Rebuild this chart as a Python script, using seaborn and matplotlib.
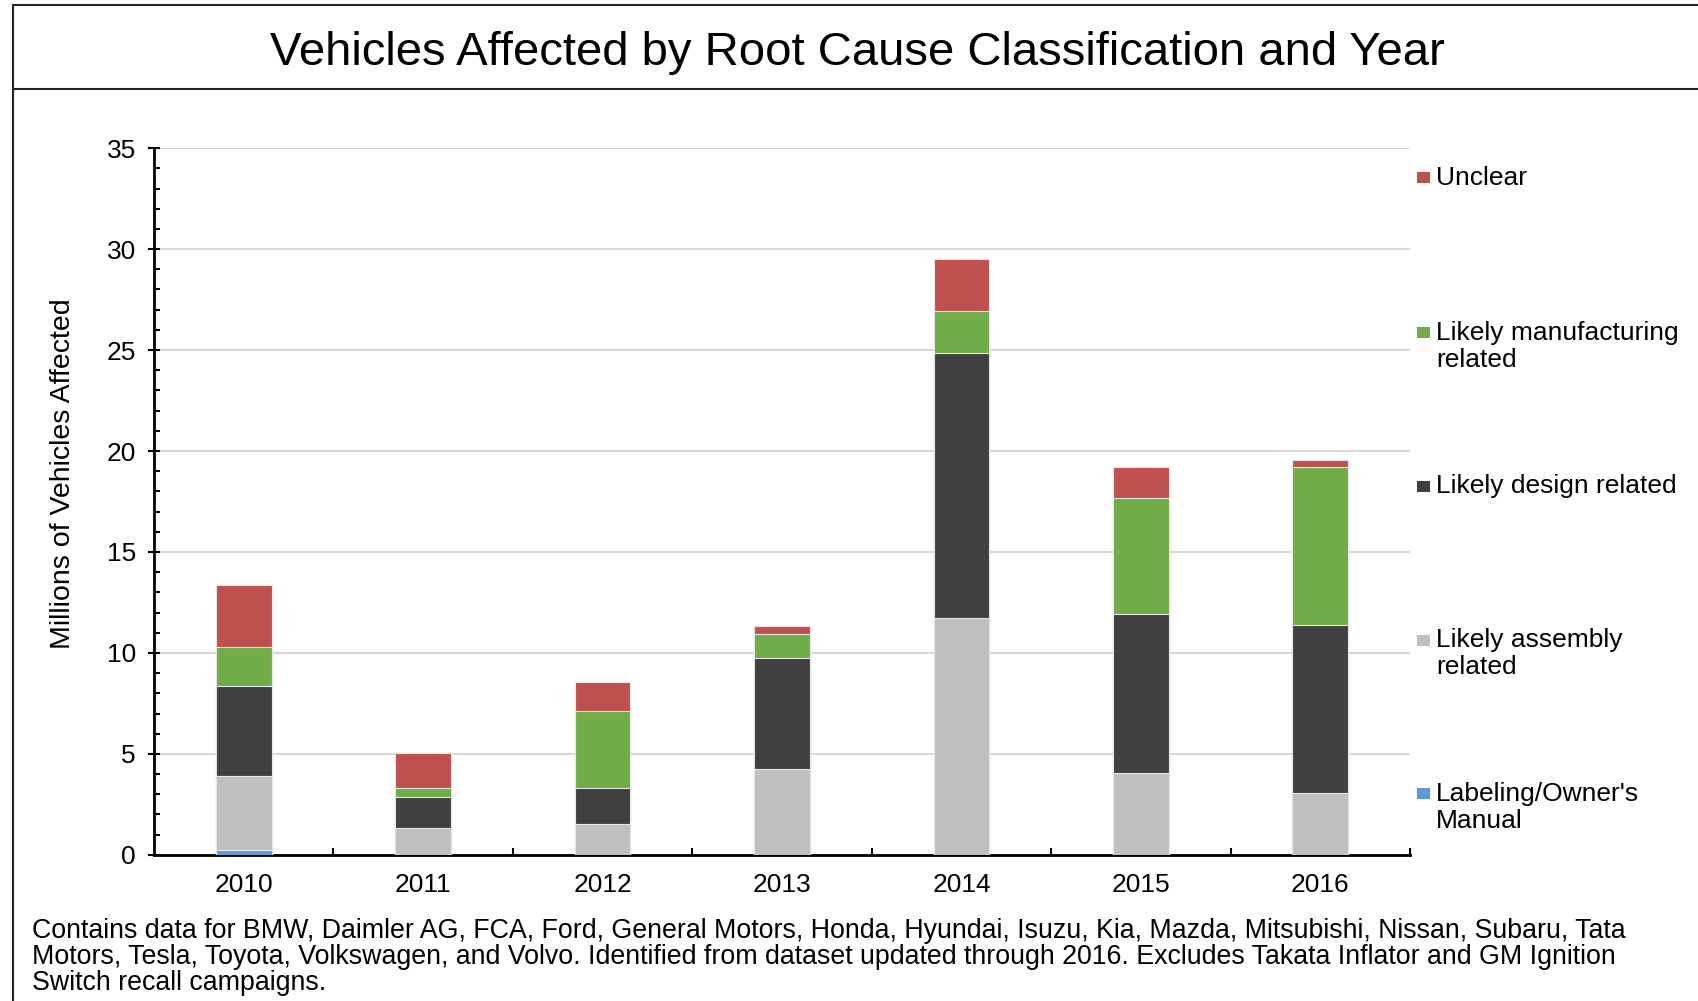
import numpy as np
import pandas as pd
import matplotlib
matplotlib.use("Agg")
import matplotlib.pyplot as plt
from matplotlib.lines import Line2D
from matplotlib.patches import Rectangle
from matplotlib.ticker import MultipleLocator, FixedLocator
import seaborn as sns

# Data (millions of vehicles)
years = ["2010", "2011", "2012", "2013", "2014", "2015", "2016"]
labeling = [0.24, 0.0, 0.0, 0.0, 0.0, 0.0, 0.0]
assembly = [3.65, 1.35, 1.53, 4.24, 11.75, 4.03, 3.06]
design = [4.46, 1.54, 1.77, 5.53, 13.08, 7.88, 8.31]
manufacturing = [1.93, 0.44, 3.84, 1.18, 2.12, 5.76, 7.84]
unclear = [3.09, 1.72, 1.44, 0.38, 2.57, 1.52, 0.37]

series_names = ["Labeling/Owner's\nManual", "Likely assembly\nrelated", "Likely design related",
                "Likely manufacturing\nrelated", "Unclear"]
series_colors = ["#5B9BD5", "#BFBFBF", "#404040", "#70AD47", "#C0504D"]

footnote = ("Contains data for BMW, Daimler AG, FCA, Ford, General Motors, Honda, Hyundai, Isuzu, Kia, Mazda, Mitsubishi, Nissan, Subaru, Tata\n"
            "Motors, Tesla, Toyota, Volkswagen, and Volvo. Identified from dataset updated through 2016. Excludes Takata Inflator and GM Ignition\n"
            "Switch recall campaigns.")

# cumulative tops for stacking
df = pd.DataFrame({"year": years, "labeling": labeling, "assembly": assembly,
                   "design": design, "manufacturing": manufacturing, "unclear": unclear})
cols = ["labeling", "assembly", "design", "manufacturing", "unclear"]
cum = df[cols].cumsum(axis=1)

sns.set_style("white")
plt.rcParams['font.family'] = ['Liberation Sans', 'DejaVu Sans']
plt.rcParams['text.color'] = 'black'
plt.rcParams['xtick.color'] = 'black'
plt.rcParams['ytick.color'] = 'black'

fig = plt.figure(figsize=(16.98, 10.01), dpi=100)
ax = fig.add_axes([0.0907, 0.146, 0.7397, 0.706])

# draw from tallest (total) down so lower segments paint over
for col, color in zip(cols[::-1], series_colors[::-1]):
    sns.barplot(x=df["year"], y=cum[col], color=color, saturation=1, width=0.31,
                edgecolor="#e6e6e6", linewidth=0.8, ax=ax, zorder=3)

ax.set_xlim(-0.5, 6.5)
ax.set_ylim(0, 35)
ax.yaxis.set_major_locator(MultipleLocator(5))
ax.yaxis.set_minor_locator(MultipleLocator(1))
ax.xaxis.set_minor_locator(FixedLocator(np.arange(0.5, 7, 1)))
ax.grid(axis="y", color="#d9d9d9", linewidth=1.5, zorder=0)
ax.set_axisbelow(True)

sns.despine(ax=ax)
for side in ["left", "bottom"]:
    ax.spines[side].set_linewidth(2)
    ax.spines[side].set_color("black")

ax.tick_params(axis="y", which="major", direction="inout", length=8, width=1.5,
               labelsize=19, pad=9, left=True)
ax.tick_params(axis="y", which="minor", direction="in", length=4, width=1.5, left=True)
ax.tick_params(axis="x", which="major", length=0, labelsize=19, pad=13)
ax.tick_params(axis="x", which="minor", direction="in", length=5, width=1.5, bottom=True)

ax.set_xlabel("")
ax.set_ylabel("")
fig.text(0.037, 0.527, "Millions of Vehicles Affected", rotation=90, fontsize=20.5,
         ha="center", va="center")

# legend drawn by hand: first lines evenly spaced, top to bottom
leg_y = [0.8226, 0.6678, 0.5142, 0.3605, 0.2070]
for name, color, y in zip(series_names[::-1], series_colors[::-1], leg_y):
    fig.add_artist(Rectangle((0.8343, y - 0.0055), 0.0077, 0.011, transform=fig.transFigure,
                             facecolor=color, edgecolor="none"))
    for i, line in enumerate(name.split("\n")):
        fig.text(0.8457, y - i * 0.027, line, fontsize=19, ha="left", va="center")

fig.text(0.505, 0.947, "Vehicles Affected by Root Cause Classification and Year",
         fontsize=34, ha="center", va="center")
fig.text(0.019, 0.083, footnote, fontsize=19.3, ha="left", va="top", linespacing=1.0)

# frame lines around title block
fig.add_artist(Line2D([0.0077, 0.0077], [0, 0.995], transform=fig.transFigure, color="#222222", lw=1.5))
fig.add_artist(Line2D([0.0077, 1], [0.995, 0.995], transform=fig.transFigure, color="#222222", lw=1.5))
fig.add_artist(Line2D([0.0077, 1], [0.911, 0.911], transform=fig.transFigure, color="#222222", lw=1.5))

fig.savefig("out.png", dpi=100, facecolor="white")
